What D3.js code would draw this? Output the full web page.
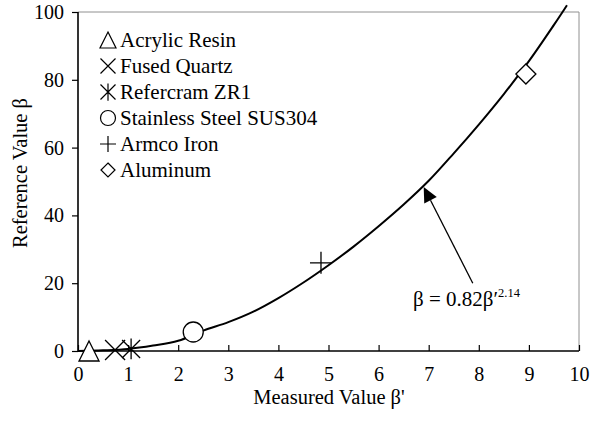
<!DOCTYPE html>
<html><head><meta charset="utf-8">
<script src="https://cdn.jsdelivr.net/npm/d3@7"></script>
<style>body{margin:0;background:#fff}svg{display:block}text{font-family:"Liberation Serif","Times New Roman",serif;fill:#000}</style>
</head><body><svg id="c" width="590" height="425"></svg>
<script>
// Data
const xTicks = [0,1,2,3,4,5,6,7,8,9,10];
const yTicks = [0,20,40,60,80,100];
const curveX = [0, 0.5, 1.0, 1.5, 2.0, 2.5, 3.0, 3.5, 4.0, 4.5, 5.0, 5.5, 6.0, 6.5, 7.0, 7.5, 8.0, 8.5, 9.0, 9.5, 9.76];
const curveY = [0, 0.2, 0.6, 1.6, 3.0, 6.0, 8.5, 11.6, 15.6, 20.2, 25.3, 30.8, 36.8, 43.2, 50.2, 58.3, 66.8, 75.8, 85.5, 96.2, 102];
const materials = ["Acrylic Resin","Fused Quartz","Refercram ZR1","Stainless Steel SUS304","Armco Iron","Aluminum"];
const symbolsKind = ["triangle","cross","asterisk","circle","plus","diamond"];
const matX = [0.22, 0.74, 1.06, 2.3, 4.85, 8.94];
const matY = [0.0, 0.3, 0.6, 5.6, 26.0, 81.7];
const arrowFrom = [7.88, 20.0];
const arrowTo = [6.9, 48.4];

const svg = d3.select("#c");
const x = d3.scaleLinear().domain([0,10]).range([78,579]);
const y = d3.scaleLinear().domain([0,100]).range([351,12]);

// frame top/right grey
svg.append("path").attr("d",`M${x(0)},${y(100)}H${x(10)}V${y(0)}`).attr("fill","none").attr("stroke","#909090").attr("stroke-width",1);

// axes
const xa = svg.append("g").attr("transform",`translate(0,${y(0)})`)
  .call(d3.axisBottom(x).tickValues(xTicks).tickSize(-6).tickPadding(16).tickFormat(d3.format("d")));
const ya = svg.append("g").attr("transform",`translate(${x(0)},0)`)
  .call(d3.axisLeft(y).tickValues(yTicks).tickSize(6).tickPadding(8).tickFormat(d3.format("d")));
[xa,ya].forEach(a=>{
  a.select(".domain").attr("stroke","#000").attr("stroke-width",1.6);
  a.selectAll(".tick line").attr("stroke","#000").attr("stroke-width",1.2);
  a.selectAll(".tick text").style("font-family","Liberation Serif").style("font-size","20px").attr("fill","#000");
});
xa.select(".domain").attr("d",`M${x(0)},0H${x(10)}`);
ya.select(".domain").attr("d",`M0,${y(100)}V${y(0)}`);
xa.selectAll(".tick text").attr("dy","0.71em");

// curve
const pts = curveX.map((d,i)=>[d,curveY[i]]);
svg.append("path").datum(pts)
  .attr("d", d3.line().x(d=>x(d[0])).y(d=>y(d[1])).curve(d3.curveCatmullRom))
  .attr("fill","none").attr("stroke","#000").attr("stroke-width",2);

// symbol path generator
function sym(kind, s){
  const h = s/2;
  switch(kind){
    case "triangle": return `M0,${-h}L${h},${h}L${-h},${h}Z`;
    case "cross": return `M${-h},${-h}L${h},${h}M${h},${-h}L${-h},${h}`;
    case "asterisk": return `M${-h},${-h}L${h},${h}M${h},${-h}L${-h},${h}M0,${-h*1.15}V${h*1.15}`;
    case "circle": return `M${h},0A${h},${h},0,1,1,${-h},0A${h},${h},0,1,1,${h},0Z`;
    case "plus": return `M${-h},0H${h}M0,${-h}V${h}`;
    case "diamond": return `M0,${-h}L${h},0L0,${h}L${-h},0Z`;
  }
}
const bigSize = [20,20,18,20,22,20];
materials.forEach((m,i)=>{
  svg.append("path").attr("d",sym(symbolsKind[i],bigSize[i]))
    .attr("transform",`translate(${x(matX[i])},${y(matY[i])})`)
    .attr("fill",(symbolsKind[i]==="triangle"||symbolsKind[i]==="circle"||symbolsKind[i]==="diamond")?"#fff":"none")
    .attr("stroke","#000").attr("stroke-width",1.3);
});

// legend
const lg = svg.append("g");
const legSize = [16,15,15,15,16,14];
materials.forEach((m,i)=>{
  const base = 47 + i*26;
  lg.append("path").attr("d",sym(symbolsKind[i],legSize[i])).attr("transform",`translate(108,${base-7})`)
    .attr("fill","none").attr("stroke","#000").attr("stroke-width",1.2);
  lg.append("text").attr("x",120).attr("y",base).style("font-size","21px").text(m);
});

// arrow annotation
const ax0 = x(arrowFrom[0]), ay0 = y(arrowFrom[1]), ax1 = x(arrowTo[0]), ay1 = y(arrowTo[1]);
const ang = Math.atan2(ay1-ay0, ax1-ax0);
const hl = 15, hw = 7;
const bx = ax1 - hl*Math.cos(ang), by = ay1 - hl*Math.sin(ang);
svg.append("line").attr("x1",ax0).attr("y1",ay0).attr("x2",bx).attr("y2",by).attr("stroke","#000").attr("stroke-width",1.3);
svg.append("path").attr("d",`M${ax1},${ay1}L${bx+hw*Math.sin(ang)},${by-hw*Math.cos(ang)}L${bx-hw*Math.sin(ang)},${by+hw*Math.cos(ang)}Z`).attr("fill","#000");

const eq = svg.append("text").attr("x",413).attr("y",306).style("font-size","21px");
eq.append("tspan").text("β = 0.82β′");
eq.append("tspan").attr("dy",-9).style("font-size","12.5px").text("2.14");

// axis titles
svg.append("text").attr("x",329).attr("y",404).attr("text-anchor","middle").style("font-size","20.5px").text("Measured Value β'");
svg.append("text").attr("transform",`translate(20,173) rotate(-90)`).attr("text-anchor","middle").attr("dy","0.35em").style("font-size","20.5px").text("Reference Value β");
</script></body></html>
